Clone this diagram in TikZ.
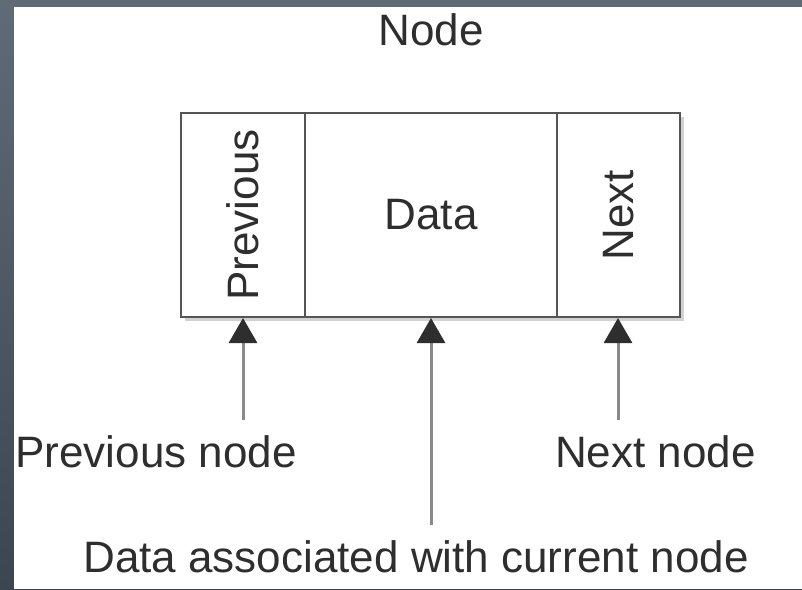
\documentclass[tikz,border=0pt]{standalone}
\usepackage{fontspec}
\setmainfont{Liberation Sans}
\usetikzlibrary{arrows.meta,shadows}
\definecolor{txt}{HTML}{2E2E2E}
\definecolor{boxline}{HTML}{555555}
\definecolor{arrline}{HTML}{8A8A8A}
\definecolor{bgtop}{HTML}{5F6B76}
\definecolor{bgbot}{HTML}{3C4650}
\begin{document}
\begin{tikzpicture}[x=0.5pt,y=-0.5pt,
  cell/.style={draw=boxline,line width=1pt,fill=white,minimum height=102pt,inner sep=0pt},
  lbl/.style={text=txt,font=\fontsize{22}{26}\selectfont,inner sep=0pt},
  arr/.style={draw=arrline,line width=1.5pt,-{Triangle[width=14pt,length=12.5pt,fill=txt,color=txt]}}]
  \useasboundingbox (0,0) rectangle (802,589);
  \shade[top color=bgtop,bottom color=bgbot] (0,0) rectangle (802,589);
  \fill[white] (14,7) rectangle (802,589);
  % shadow
  \fill[black!18] (185,117) rectangle (684,321);
  \node[cell,minimum width=62pt] (prev) at (243,215) {};
  \node[cell,minimum width=126pt] (data) at (431,215) {};
  \node[cell,minimum width=61.5pt] (next) at (618.5,215) {};
  \node[lbl,rotate=90] (prevt) at (prev.center) {Previous};
  \node[lbl] (datat) at (data.center) {Data};
  \node[lbl,rotate=90] (nextt) at (next.center) {Next};
  \node[lbl] (title) at (431,30) {Node};
  \node[lbl,anchor=base west] (pn) at (15,467) {Previous node};
  \node[lbl,anchor=base east] (nn) at (756,467) {Next node};
  \node[lbl,anchor=base] (dn) at (416,572) {Data associated with current node};
  \coordinate (c1) at (243,420);
  \coordinate (c2) at (431,525);
  \coordinate (c3) at (618,420);
  \draw[arr] (c1) -- (prev.south);
  \draw[arr] (c2) -- (data.south);
  \draw[arr] (c3) -- (next.south -| c3);
\end{tikzpicture}
\end{document}
